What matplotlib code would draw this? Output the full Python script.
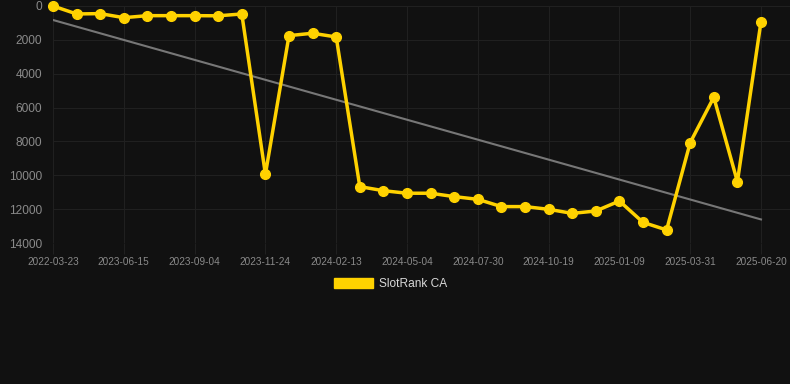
import matplotlib.pyplot as plt
from matplotlib.patches import Patch
import numpy as np

plt.rcParams['font.family'] = ['Liberation Sans', 'DejaVu Sans']

# tick labels (every third point carries a date)
tick_labels = ['2022-03-23', '2023-06-15', '2023-09-04', '2023-11-24', '2024-02-13',
               '2024-05-04', '2024-07-30', '2024-10-19', '2025-01-09', '2025-03-31',
               '2025-06-20']

# SlotRank CA rank values
rank = [0, 470, 450, 690, 570, 570, 570, 580, 470, 9940,
        1750, 1610, 1830, 10670, 10910, 11060, 11060, 11260, 11420, 11850,
        11850, 12010, 12250, 12110, 11520, 12780, 13230, 8070, 5390, 10380,
        925]

x = np.arange(len(rank))
tick_pos = x[::3]

bg = '#111111'
yellow = '#FFD200'

fig = plt.figure(figsize=(7.9, 3.84), dpi=100, facecolor=bg)
ax = fig.add_axes([53 / 790, 1 - 243 / 384, 1 - 53 / 790, (243 - 6) / 384])
ax.set_facecolor(bg)

# trend line (least squares over index)
k, b = np.polyfit(x, rank, 1)
ax.plot(x, k * x + b, color='#777777', linewidth=1.5, zorder=2)

ax.plot(x, rank, color=yellow, linewidth=2.5, marker='o', markersize=7,
        zorder=3, clip_on=False)

ax.set_xlim(0, (790 - 53) / ((761 - 53) / 30))
ax.set_ylim(14000, 0)
ax.set_yticks(range(0, 14001, 2000))
ax.set_xticks(tick_pos)
ax.set_xticklabels(tick_labels)

ax.grid(True, color='#202020', linewidth=0.8)
for s in ax.spines.values():
    s.set_visible(False)
ax.tick_params(axis='x', colors='#202020', labelcolor='#8a8a8a', labelsize=7.2,
               length=8, pad=2)
ax.tick_params(axis='y', length=0, labelcolor='#8a8a8a', labelsize=8.6, pad=8)

handle = Patch(facecolor=yellow, edgecolor=yellow)
leg = fig.legend([handle], ['SlotRank CA'], loc='center', bbox_to_anchor=(0.494, 1 - 284 / 384),
                 frameon=False, fontsize=8.6, handlelength=3.3, handleheight=0.95,
                 handletextpad=0.5)
for t in leg.get_texts():
    t.set_color('#d8d8d8')

fig.savefig('out.png', dpi=100, facecolor=bg)
